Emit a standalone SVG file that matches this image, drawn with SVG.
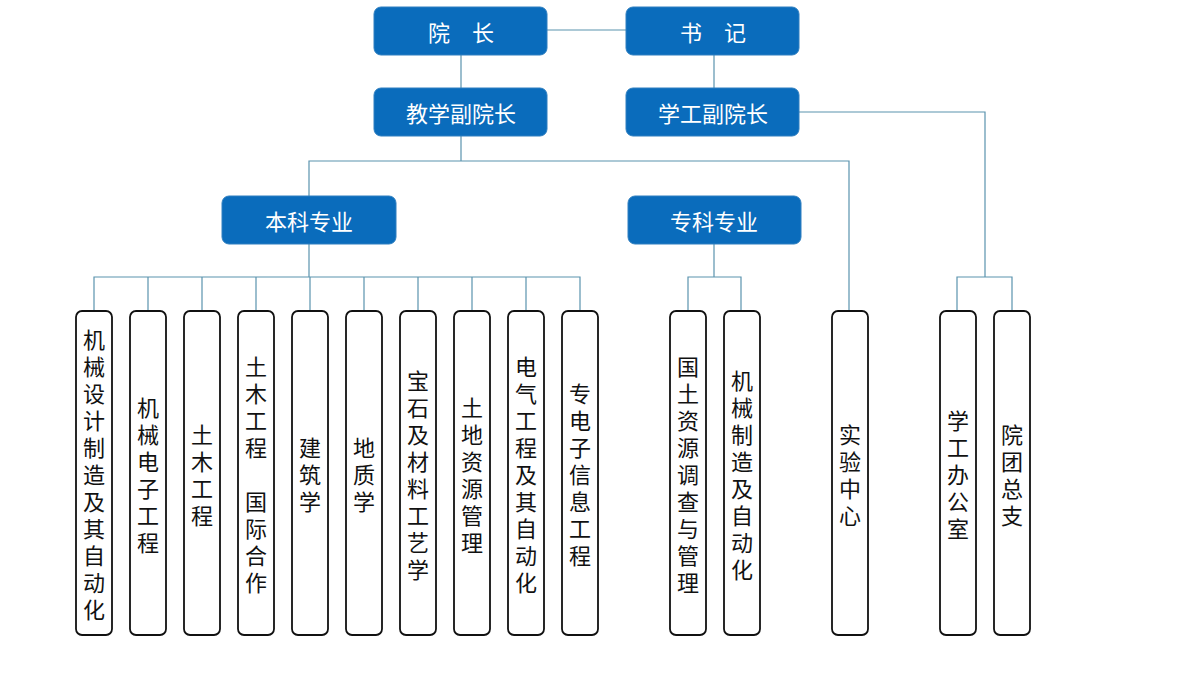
<svg xmlns="http://www.w3.org/2000/svg" width="1200" height="675" viewBox="0 0 1200 675">
<style>
.hb{fill:#0A6CBC;stroke:#2F7FC0;stroke-width:1}
.ht{fill:#fff;font-family:"Noto Sans CJK SC","Microsoft YaHei",sans-serif;font-size:22px;text-anchor:middle;dominant-baseline:central}
.vb{fill:#fff;stroke:#111;stroke-width:1.8}
.vt{fill:#111;font-family:"Noto Sans CJK SC",sans-serif;font-size:22px;text-anchor:middle;dominant-baseline:central}
.c{fill:none;stroke:#5A93AE;stroke-width:1.2}
</style>
<rect width="1200" height="675" fill="#fff"/>
<g id="connectors">
<path class="c" d="M547 30H626"/>
<path class="c" d="M461 55V88"/>
<path class="c" d="M714 55V88"/>
<path class="c" d="M799 112H985V277"/>
<path class="c" d="M957 311V277H1012V311"/>
<path class="c" d="M461 136V161"/>
<path class="c" d="M309 196V161H849V311"/>
<path class="c" d="M309 243V277"/>
<path class="c" d="M94 311V277H580V311"/>
<path class="c" d="M148 277V311M202 277V311M256 277V311M310 277V311M364 277V311M418 277V311M472 277V311M526 277V311"/>
<path class="c" d="M714 243V277"/>
<path class="c" d="M688 311V277H741V311"/>
</g>
<g id="n-yuanzhang"><rect class="hb" x="374" y="7" width="173" height="48" rx="7"/><text class="ht" x="461" y="31">院　长</text></g>
<g id="n-shuji"><rect class="hb" x="626" y="7" width="173" height="48" rx="7"/><text class="ht" x="713" y="31">书　记</text></g>
<g id="n-jiaoxue"><rect class="hb" x="374" y="88" width="173" height="48" rx="7"/><text class="ht" x="461" y="112">教学副院长</text></g>
<g id="n-xuegong"><rect class="hb" x="626" y="88" width="173" height="48" rx="7"/><text class="ht" x="713" y="112">学工副院长</text></g>
<g id="n-benke"><rect class="hb" x="222" y="196" width="174" height="48" rx="7"/><text class="ht" x="309" y="220">本科专业</text></g>
<g id="n-zhuanke"><rect class="hb" x="628" y="196" width="173" height="48" rx="7"/><text class="ht" x="714" y="220">专科专业</text></g>

<g id="v1"><rect class="vb" x="76" y="311" width="36" height="324" rx="6"/><text class="vt"><tspan x="94" y="338">机</tspan><tspan x="94" dy="27">械</tspan><tspan x="94" dy="27">设</tspan><tspan x="94" dy="27">计</tspan><tspan x="94" dy="27">制</tspan><tspan x="94" dy="27">造</tspan><tspan x="94" dy="27">及</tspan><tspan x="94" dy="27">其</tspan><tspan x="94" dy="27">自</tspan><tspan x="94" dy="27">动</tspan><tspan x="94" dy="27">化</tspan></text></g>
<g id="v2"><rect class="vb" x="130" y="311" width="36" height="324" rx="6"/><text class="vt"><tspan x="148" y="405.5">机</tspan><tspan x="148" dy="27">械</tspan><tspan x="148" dy="27">电</tspan><tspan x="148" dy="27">子</tspan><tspan x="148" dy="27">工</tspan><tspan x="148" dy="27">程</tspan></text></g>
<g id="v3"><rect class="vb" x="184" y="311" width="36" height="324" rx="6"/><text class="vt"><tspan x="202" y="432.5">土</tspan><tspan x="202" dy="27">木</tspan><tspan x="202" dy="27">工</tspan><tspan x="202" dy="27">程</tspan></text></g>
<g id="v4"><rect class="vb" x="238" y="311" width="36" height="324" rx="6"/><text class="vt"><tspan x="256" y="365">土</tspan><tspan x="256" dy="27">木</tspan><tspan x="256" dy="27">工</tspan><tspan x="256" dy="27">程</tspan><tspan x="256" dy="54">国</tspan><tspan x="256" dy="27">际</tspan><tspan x="256" dy="27">合</tspan><tspan x="256" dy="27">作</tspan></text></g>
<g id="v5"><rect class="vb" x="292" y="311" width="36" height="324" rx="6"/><text class="vt"><tspan x="310" y="446">建</tspan><tspan x="310" dy="27">筑</tspan><tspan x="310" dy="27">学</tspan></text></g>
<g id="v6"><rect class="vb" x="346" y="311" width="36" height="324" rx="6"/><text class="vt"><tspan x="364" y="446">地</tspan><tspan x="364" dy="27">质</tspan><tspan x="364" dy="27">学</tspan></text></g>
<g id="v7"><rect class="vb" x="400" y="311" width="36" height="324" rx="6"/><text class="vt"><tspan x="418" y="378.5">宝</tspan><tspan x="418" dy="27">石</tspan><tspan x="418" dy="27">及</tspan><tspan x="418" dy="27">材</tspan><tspan x="418" dy="27">料</tspan><tspan x="418" dy="27">工</tspan><tspan x="418" dy="27">艺</tspan><tspan x="418" dy="27">学</tspan></text></g>
<g id="v8"><rect class="vb" x="454" y="311" width="36" height="324" rx="6"/><text class="vt"><tspan x="472" y="405.5">土</tspan><tspan x="472" dy="27">地</tspan><tspan x="472" dy="27">资</tspan><tspan x="472" dy="27">源</tspan><tspan x="472" dy="27">管</tspan><tspan x="472" dy="27">理</tspan></text></g>
<g id="v9"><rect class="vb" x="508" y="311" width="36" height="324" rx="6"/><text class="vt"><tspan x="526" y="365">电</tspan><tspan x="526" dy="27">气</tspan><tspan x="526" dy="27">工</tspan><tspan x="526" dy="27">程</tspan><tspan x="526" dy="27">及</tspan><tspan x="526" dy="27">其</tspan><tspan x="526" dy="27">自</tspan><tspan x="526" dy="27">动</tspan><tspan x="526" dy="27">化</tspan></text></g>
<g id="v10"><rect class="vb" x="562" y="311" width="36" height="324" rx="6"/><text class="vt"><tspan x="580" y="392">专</tspan><tspan x="580" dy="27">电</tspan><tspan x="580" dy="27">子</tspan><tspan x="580" dy="27">信</tspan><tspan x="580" dy="27">息</tspan><tspan x="580" dy="27">工</tspan><tspan x="580" dy="27">程</tspan></text></g>
<g id="v11"><rect class="vb" x="670" y="311" width="36" height="324" rx="6"/><text class="vt"><tspan x="688" y="365">国</tspan><tspan x="688" dy="27">土</tspan><tspan x="688" dy="27">资</tspan><tspan x="688" dy="27">源</tspan><tspan x="688" dy="27">调</tspan><tspan x="688" dy="27">查</tspan><tspan x="688" dy="27">与</tspan><tspan x="688" dy="27">管</tspan><tspan x="688" dy="27">理</tspan></text></g>
<g id="v12"><rect class="vb" x="724" y="311" width="36" height="324" rx="6"/><text class="vt"><tspan x="742" y="378.5">机</tspan><tspan x="742" dy="27">械</tspan><tspan x="742" dy="27">制</tspan><tspan x="742" dy="27">造</tspan><tspan x="742" dy="27">及</tspan><tspan x="742" dy="27">自</tspan><tspan x="742" dy="27">动</tspan><tspan x="742" dy="27">化</tspan></text></g>
<g id="v13"><rect class="vb" x="832" y="311" width="36" height="324" rx="6"/><text class="vt"><tspan x="850" y="432.5">实</tspan><tspan x="850" dy="27">验</tspan><tspan x="850" dy="27">中</tspan><tspan x="850" dy="27">心</tspan></text></g>
<g id="v14"><rect class="vb" x="940" y="311" width="36" height="324" rx="6"/><text class="vt"><tspan x="958" y="419">学</tspan><tspan x="958" dy="27">工</tspan><tspan x="958" dy="27">办</tspan><tspan x="958" dy="27">公</tspan><tspan x="958" dy="27">室</tspan></text></g>
<g id="v15"><rect class="vb" x="994" y="311" width="36" height="324" rx="6"/><text class="vt"><tspan x="1012" y="432.5">院</tspan><tspan x="1012" dy="27">团</tspan><tspan x="1012" dy="27">总</tspan><tspan x="1012" dy="27">支</tspan></text></g>
</svg>
